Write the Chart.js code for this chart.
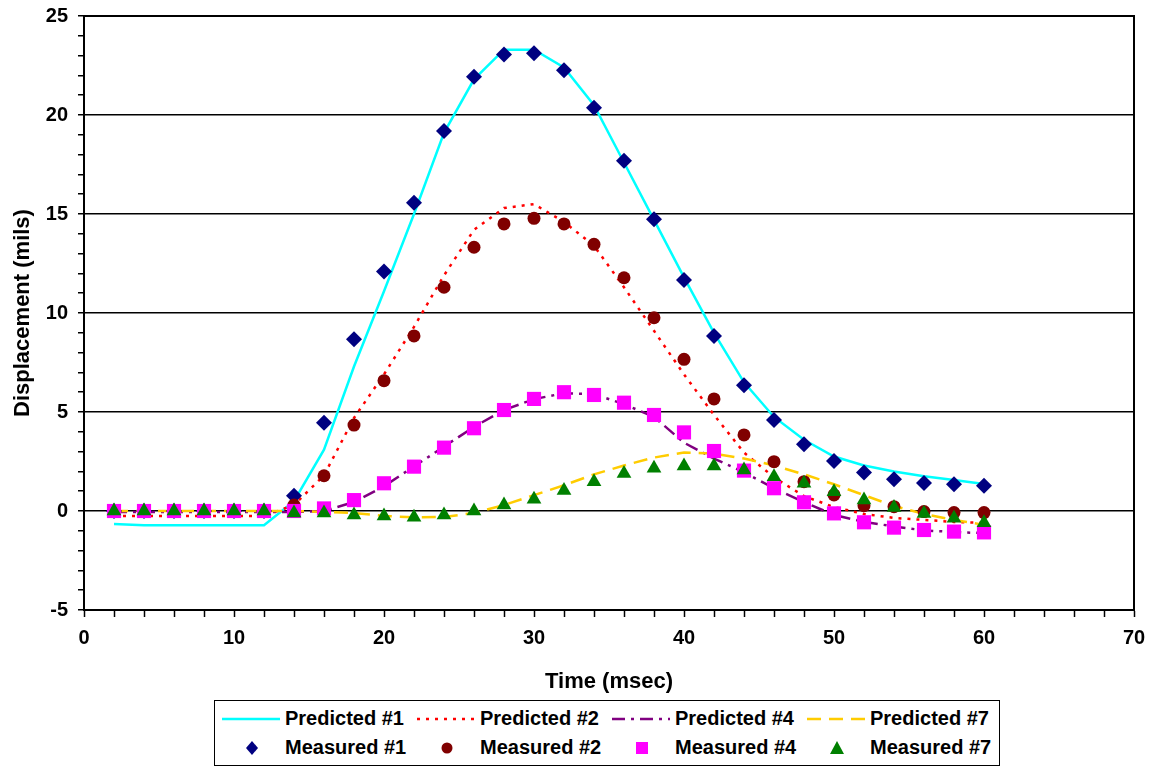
<!DOCTYPE html>
<html>
<head>
<meta charset="utf-8">
<title>Displacement vs Time</title>
<script src="https://cdn.jsdelivr.net/npm/chart.js@4.4.0/dist/chart.umd.min.js"></script>
<style>
  body { margin: 0; background: #fff; }
  #wrap { position: relative; width: 1159px; height: 769px; }
  #chart { position: absolute; left: 0; top: 0; }
  #legend {
    position: absolute; left: 214px; top: 700px; width: 786px; height: 66px;
    box-sizing: border-box; border: 1px solid #000; background: #fff;
    padding: 3px 0 0 7px;
    display: grid; grid-template-columns: repeat(4, 195px); grid-template-rows: 29px 29px;
    font: bold 20px 'Liberation Sans', Arial, sans-serif; color: #000;
  }
  .legend-item { display: flex; align-items: center; white-space: nowrap; }
  .legend-item svg { margin-right: 3px; flex: none; }
</style>
</head>
<body>
<div id="wrap">
  <canvas id="chart" width="1159" height="700"></canvas>
  <div id="legend"></div>
</div>
<script>
// Time axis (msec)
const time = [2, 4, 6, 8, 10, 12, 14, 16, 18, 20, 22, 24, 26, 28, 30,
              32, 34, 36, 38, 40, 42, 44, 46, 48, 50, 52, 54, 56, 58, 60];

// Predicted displacement (mils)
const predicted1 = [-0.66, -0.72, -0.72, -0.72, -0.72, -0.72, 0.5, 3.1, 7.3, 11.1, 15.0, 19.1, 21.8, 23.3, 23.3,
                    22.4, 20.5, 17.6, 14.7, 11.8, 9.0, 6.5, 4.75, 3.6, 2.75, 2.3, 2.0, 1.75, 1.57, 1.36];
const predicted2 = [-0.25, -0.25, -0.25, -0.25, -0.25, -0.25, 0.3, 1.8, 4.7, 6.9, 9.3, 11.9, 14.2, 15.3, 15.5,
                    14.6, 13.4, 11.3, 9.1, 6.9, 4.85, 2.95, 1.7, 0.75, 0.2, -0.15, -0.35, -0.45, -0.55, -0.6];
const predicted4 = [-0.05, -0.05, -0.05, -0.05, -0.05, -0.05, -0.05, 0, 0.45, 1.25, 2.25, 3.25, 4.25, 5.1, 5.65,
                    5.95, 5.9, 5.4, 4.75, 3.45, 2.65, 1.95, 1.15, 0.45, -0.2, -0.55, -0.78, -0.98, -1.06, -1.12];
const predicted7 = [0, 0, 0, 0, 0, 0, 0, -0.05, -0.1, -0.25, -0.32, -0.3, -0.1, 0.3, 0.8,
                    1.3, 1.85, 2.3, 2.7, 2.95, 2.9, 2.65, 2.3, 1.85, 1.35, 0.8, 0.25, -0.15, -0.45, -0.7];

// Measured displacement (mils)
const measured1 = [0, 0, 0, 0, 0, 0, 0.77, 4.46, 8.67, 12.09, 15.57, 19.19, 21.93, 23.06, 23.12,
                   22.26, 20.37, 17.69, 14.73, 11.67, 8.84, 6.35, 4.6, 3.37, 2.53, 1.94, 1.6, 1.41, 1.35, 1.28];
const measured2 = [0, 0, 0, 0, 0, 0, 0.3, 1.78, 4.34, 6.58, 8.84, 11.3, 13.32, 14.5, 14.78,
                   14.5, 13.47, 11.78, 9.76, 7.66, 5.66, 3.84, 2.49, 1.48, 0.81, 0.27, 0.22, -0.03, -0.08, -0.08];
const measured4 = [0, 0, 0, 0, 0, 0, 0, 0.13, 0.55, 1.4, 2.24, 3.2, 4.18, 5.1, 5.66,
                   6.0, 5.86, 5.47, 4.85, 3.97, 3.03, 2.04, 1.15, 0.44, -0.12, -0.57, -0.84, -0.96, -1.04, -1.08];
const measured7 = [0, 0, 0, 0, 0, 0, -0.1, -0.1, -0.2, -0.25, -0.32, -0.2, 0.0, 0.3, 0.59,
                   1.03, 1.48, 1.9, 2.16, 2.27, 2.27, 2.07, 1.73, 1.4, 0.97, 0.55, 0.18, -0.12, -0.37, -0.59];

const FONT = "'Liberation Sans', Arial, sans-serif";

function points(values) {
  return values.map((v, i) => ({ x: time[i], y: v }));
}

function predictedSeries(label, values, color, dash, width, order) {
  return {
    label, data: points(values), order,
    borderColor: color, backgroundColor: color, borderWidth: width, borderDash: dash,
    pointRadius: 0, showLine: true, tension: 0
  };
}

function measuredSeries(label, values, color, style, radius, order) {
  return {
    label, data: points(values), order,
    showLine: false, pointStyle: style, pointRadius: radius,
    pointBackgroundColor: color, pointBorderColor: color, pointBorderWidth: 0,
    borderColor: color, backgroundColor: color
  };
}

const datasets = [
  predictedSeries('Predicted #1', predicted1, '#00FFFF', [], 2.5, 7),
  predictedSeries('Predicted #2', predicted2, '#FF0000', [3, 6], 2.5, 6),
  predictedSeries('Predicted #4', predicted4, '#800080', [13, 6, 3, 6], 2.5, 5),
  predictedSeries('Predicted #7', predicted7, '#FFCC00', [14, 8], 2.5, 4),
  measuredSeries('Measured #1', measured1, '#000080', 'rectRot', 8, 3),
  measuredSeries('Measured #2', measured2, '#800000', 'circle', 6.5, 2),
  measuredSeries('Measured #4', measured4, '#FF00FF', 'rect', 10, 1),
  measuredSeries('Measured #7', measured7, '#008000', 'triangle', 8.5, 0)
];

// Legend symbol as a small svg, built from the dataset style
function legendSymbol(ds) {
  const ns = 'http://www.w3.org/2000/svg';
  const svg = document.createElementNS(ns, 'svg');
  svg.setAttribute('width', '60');
  svg.setAttribute('height', '22');
  let el;
  if (ds.showLine) {
    el = document.createElementNS(ns, 'line');
    el.setAttribute('x1', '0'); el.setAttribute('y1', '11');
    el.setAttribute('x2', '58'); el.setAttribute('y2', '11');
    el.setAttribute('stroke', ds.borderColor);
    el.setAttribute('stroke-width', ds.borderWidth);
    if (ds.borderDash.length) el.setAttribute('stroke-dasharray', ds.borderDash.join(' '));
  } else if (ds.pointStyle === 'circle') {
    el = document.createElementNS(ns, 'circle');
    el.setAttribute('cx', '30'); el.setAttribute('cy', '11'); el.setAttribute('r', '5.5');
  } else {
    el = document.createElementNS(ns, 'polygon');
    const shapes = {
      rectRot: '30,4 36,11 30,18 24,11',
      rect: '24,5 36,5 36,17 24,17',
      triangle: '30,4 37,17 23,17'
    };
    el.setAttribute('points', shapes[ds.pointStyle]);
  }
  if (!ds.showLine) el.setAttribute('fill', ds.pointBackgroundColor);
  svg.appendChild(el);
  return svg;
}

const htmlLegend = {
  id: 'htmlLegend',
  afterUpdate(chart) {
    const box = document.getElementById('legend');
    box.innerHTML = '';
    chart.data.datasets.forEach(ds => {
      const item = document.createElement('div');
      item.className = 'legend-item';
      item.appendChild(legendSymbol(ds));
      const text = document.createElement('span');
      text.textContent = ds.label;
      item.appendChild(text);
      box.appendChild(item);
    });
  }
};

// Top and right edges of the plot box
const plotFrame = {
  id: 'plotFrame',
  beforeDatasetsDraw(chart) {
    const { ctx, chartArea: a } = chart;
    ctx.save();
    ctx.strokeStyle = '#000';
    ctx.lineWidth = 2;
    ctx.beginPath();
    ctx.moveTo(a.left, a.top);
    ctx.lineTo(a.right, a.top);
    ctx.lineTo(a.right, a.bottom);
    ctx.stroke();
    ctx.restore();
  }
};

const ctx = document.getElementById('chart').getContext('2d');
const chart = new Chart(ctx, {
  type: 'line',
  data: { datasets },
  options: {
    responsive: false,
    animation: false,
    layout: { padding: { top: 16, right: 25, left: 0, bottom: 0 } },
    plugins: {
      legend: { display: false },
      tooltip: { enabled: false }
    },
    scales: {
      x: {
        type: 'linear', min: 0, max: 70,
        afterFit: s => { s.height = 90; },
        ticks: {
          stepSize: 2, autoSkip: false, maxRotation: 0, padding: 9,
          color: '#000', font: { family: FONT, size: 20, weight: 'bold' },
          callback: v => (v % 10 === 0 ? String(v) : '')
        },
        grid: { drawOnChartArea: false, tickLength: 7, tickColor: '#000', tickWidth: 1.5 },
        border: { color: '#000', width: 2 },
        title: {
          display: true, text: 'Time (msec)', color: '#000',
          font: { family: FONT, size: 22, weight: 'bold' },
          padding: { top: 0, bottom: 5 }
        }
      },
      y: {
        min: -5, max: 25,
        // fixed axis width; drop the label overhang so the plot top sits at the layout padding
        afterFit: s => { s.width = 84; s.paddingTop = 0; s.paddingBottom = 0; },
        ticks: {
          stepSize: 1, autoSkip: false, padding: 10,
          color: '#000', font: { family: FONT, size: 20, weight: 'bold' },
          callback: v => (v % 5 === 0 ? String(v) : '')
        },
        grid: {
          color: c => (c.tick && c.tick.value % 5 === 0 ? '#000' : 'rgba(0,0,0,0)'),
          lineWidth: 1.5, tickLength: 6, tickColor: '#000', tickWidth: 1.5
        },
        border: { color: '#000', width: 2 },
        title: {
          display: true, text: 'Displacement (mils)', color: '#000',
          font: { family: FONT, size: 22, weight: 'bold' },
          padding: { top: 10, bottom: 0 }
        }
      }
    }
  },
  plugins: [htmlLegend, plotFrame]
});
</script>
</body>
</html>
